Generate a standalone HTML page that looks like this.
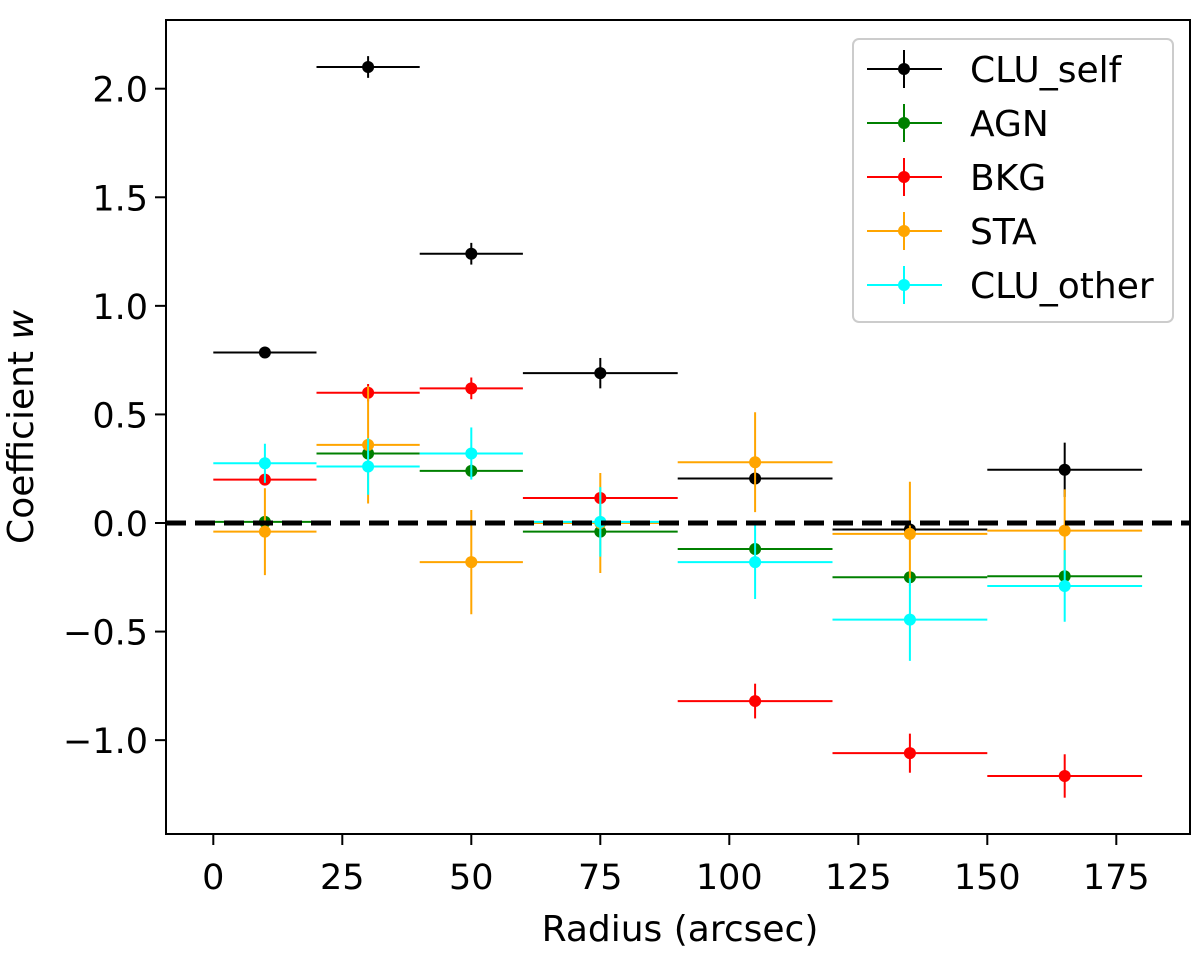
<!DOCTYPE html>
<html><head><meta charset="utf-8"><style>
body{margin:0;background:#fff;}
svg text{font-family:"DejaVu Sans","Liberation Sans",sans-serif;fill:#000;}
</style></head><body>
<svg id="chart" width="1200" height="959" xmlns="http://www.w3.org/2000/svg">
<rect width="1200" height="959" fill="#fff"/>
<g id="marks"></g>
<g id="axes"></g>
</svg>
<script>
const xCenters=[10,30,50,75,105,135,165];
const xHalfWidths=[10,10,10,15,15,15,15];
const seriesNames=["CLU_self","AGN","BKG","STA","CLU_other"];
const seriesColors=["#000000","#008000","#ff0000","#ffa500","#00ffff"];
const cluSelf=[0.785,2.10,1.24,0.69,0.205,-0.03,0.245];
const cluSelfErr=[0.02,0.05,0.05,0.07,0.0,0.03,0.125];
const agn=[0.005,0.32,0.24,-0.04,-0.12,-0.25,-0.245];
const agnErr=[0.01,0.02,0.03,0.02,0.02,0.02,0.02];
const bkg=[0.20,0.60,0.62,0.115,-0.82,-1.06,-1.165];
const bkgErr=[0.01,0.04,0.05,0.0,0.08,0.09,0.1];
const sta=[-0.04,0.36,-0.18,0.0,0.28,-0.05,-0.035];
const staErr=[0.2,0.27,0.24,0.23,0.23,0.24,0.19];
const cluOther=[0.275,0.26,0.32,0.005,-0.18,-0.445,-0.29];
const cluOtherErr=[0.09,0.13,0.12,0.16,0.17,0.19,0.165];
const xTicks=[0,25,50,75,100,125,150,175];
const yTicks=[-1.0,-0.5,0.0,0.5,1.0,1.5,2.0];
const yTickLabels=["\u22121.0","\u22120.5","0.0","0.5","1.0","1.5","2.0"];

const L=166,R=1190,T=20,B=834;
function X(v){return 213.3+v*5.16;}
function Y(v){return 523-v*217.15;}
const NS="http://www.w3.org/2000/svg";
function mk(tag,attrs,parent){const e=document.createElementNS(NS,tag);for(const k in attrs)e.setAttribute(k,attrs[k]);parent.appendChild(e);return e;}
const marks=document.getElementById('marks'),axes=document.getElementById('axes');
const allVals=[cluSelf,agn,bkg,sta,cluOther],allErr=[cluSelfErr,agnErr,bkgErr,staErr,cluOtherErr];
allVals.forEach((vals,s)=>{
  const g=mk('g',{},marks);
  
  
  vals.forEach((v,i)=>{
    const c=seriesColors[s],cx=X(xCenters[i]),cy=Y(v);
    const h=mk('line',{x1:X(xCenters[i]-xHalfWidths[i]),x2:X(xCenters[i]+xHalfWidths[i]),y1:cy,y2:cy,stroke:c,'stroke-width':2},g);
    
    
    const e=allErr[s][i];
    if(e>0){const vl=mk('line',{x1:cx,x2:cx,y1:Y(v+e),y2:Y(v-e),stroke:c,'stroke-width':2},g);
      
      }
    const p=mk('circle',{cx:cx,cy:cy,r:6,fill:c},g);
    
    
  });
});
const zl=mk('line',{x1:L,x2:R,y1:Y(0),y2:Y(0),stroke:'#000','stroke-width':5,'stroke-dasharray':'20,9'},marks);


const fr=mk('rect',{x:L,y:T,width:R-L,height:B-T,fill:'none',stroke:'#000','stroke-width':2},axes);


xTicks.forEach(t=>{
  mk('line',{x1:X(t),x2:X(t),y1:B,y2:B+11,stroke:'#000','stroke-width':2},axes);
  const tx=mk('text',{x:X(t),y:889,'font-size':35,'text-anchor':'middle'},axes);tx.textContent=t;
  
  
});
yTicks.forEach((t,i)=>{
  mk('line',{x1:L-11,x2:L,y1:Y(t),y2:Y(t),stroke:'#000','stroke-width':2},axes);
  const tx=mk('text',{x:L-18,y:Y(t)+13,'font-size':35,'text-anchor':'end'},axes);tx.textContent=yTickLabels[i];
  
  
});
const xt=mk('text',{x:680,y:941,'font-size':36,'text-anchor':'middle'},axes);xt.textContent='Radius (arcsec)';


const yt=mk('text',{x:0,y:0,'font-size':36,'text-anchor':'middle',transform:'translate(33,427) rotate(-90)'},axes);
yt.innerHTML='Coefficient <tspan font-style="italic">w</tspan>';


const lg=mk('g',{},axes);


mk('rect',{x:853,y:39,width:320,height:283,rx:6,fill:'#fff','fill-opacity':0.8,stroke:'#ccc','stroke-width':2},lg);
seriesNames.forEach((n,i)=>{
  const y=69+i*54,c=seriesColors[i];
  const eg=mk('g',{},lg);
  
  
  mk('line',{x1:867,x2:942,y1:y,y2:y,stroke:c,'stroke-width':2},eg);
  mk('line',{x1:904,x2:904,y1:y-19,y2:y+19,stroke:c,'stroke-width':2},eg);
  mk('circle',{cx:904,cy:y,r:6,fill:c},eg);
  const t=mk('text',{x:970,y:y+13,'font-size':36},eg);t.textContent=n;
});
</script>
</body></html>
